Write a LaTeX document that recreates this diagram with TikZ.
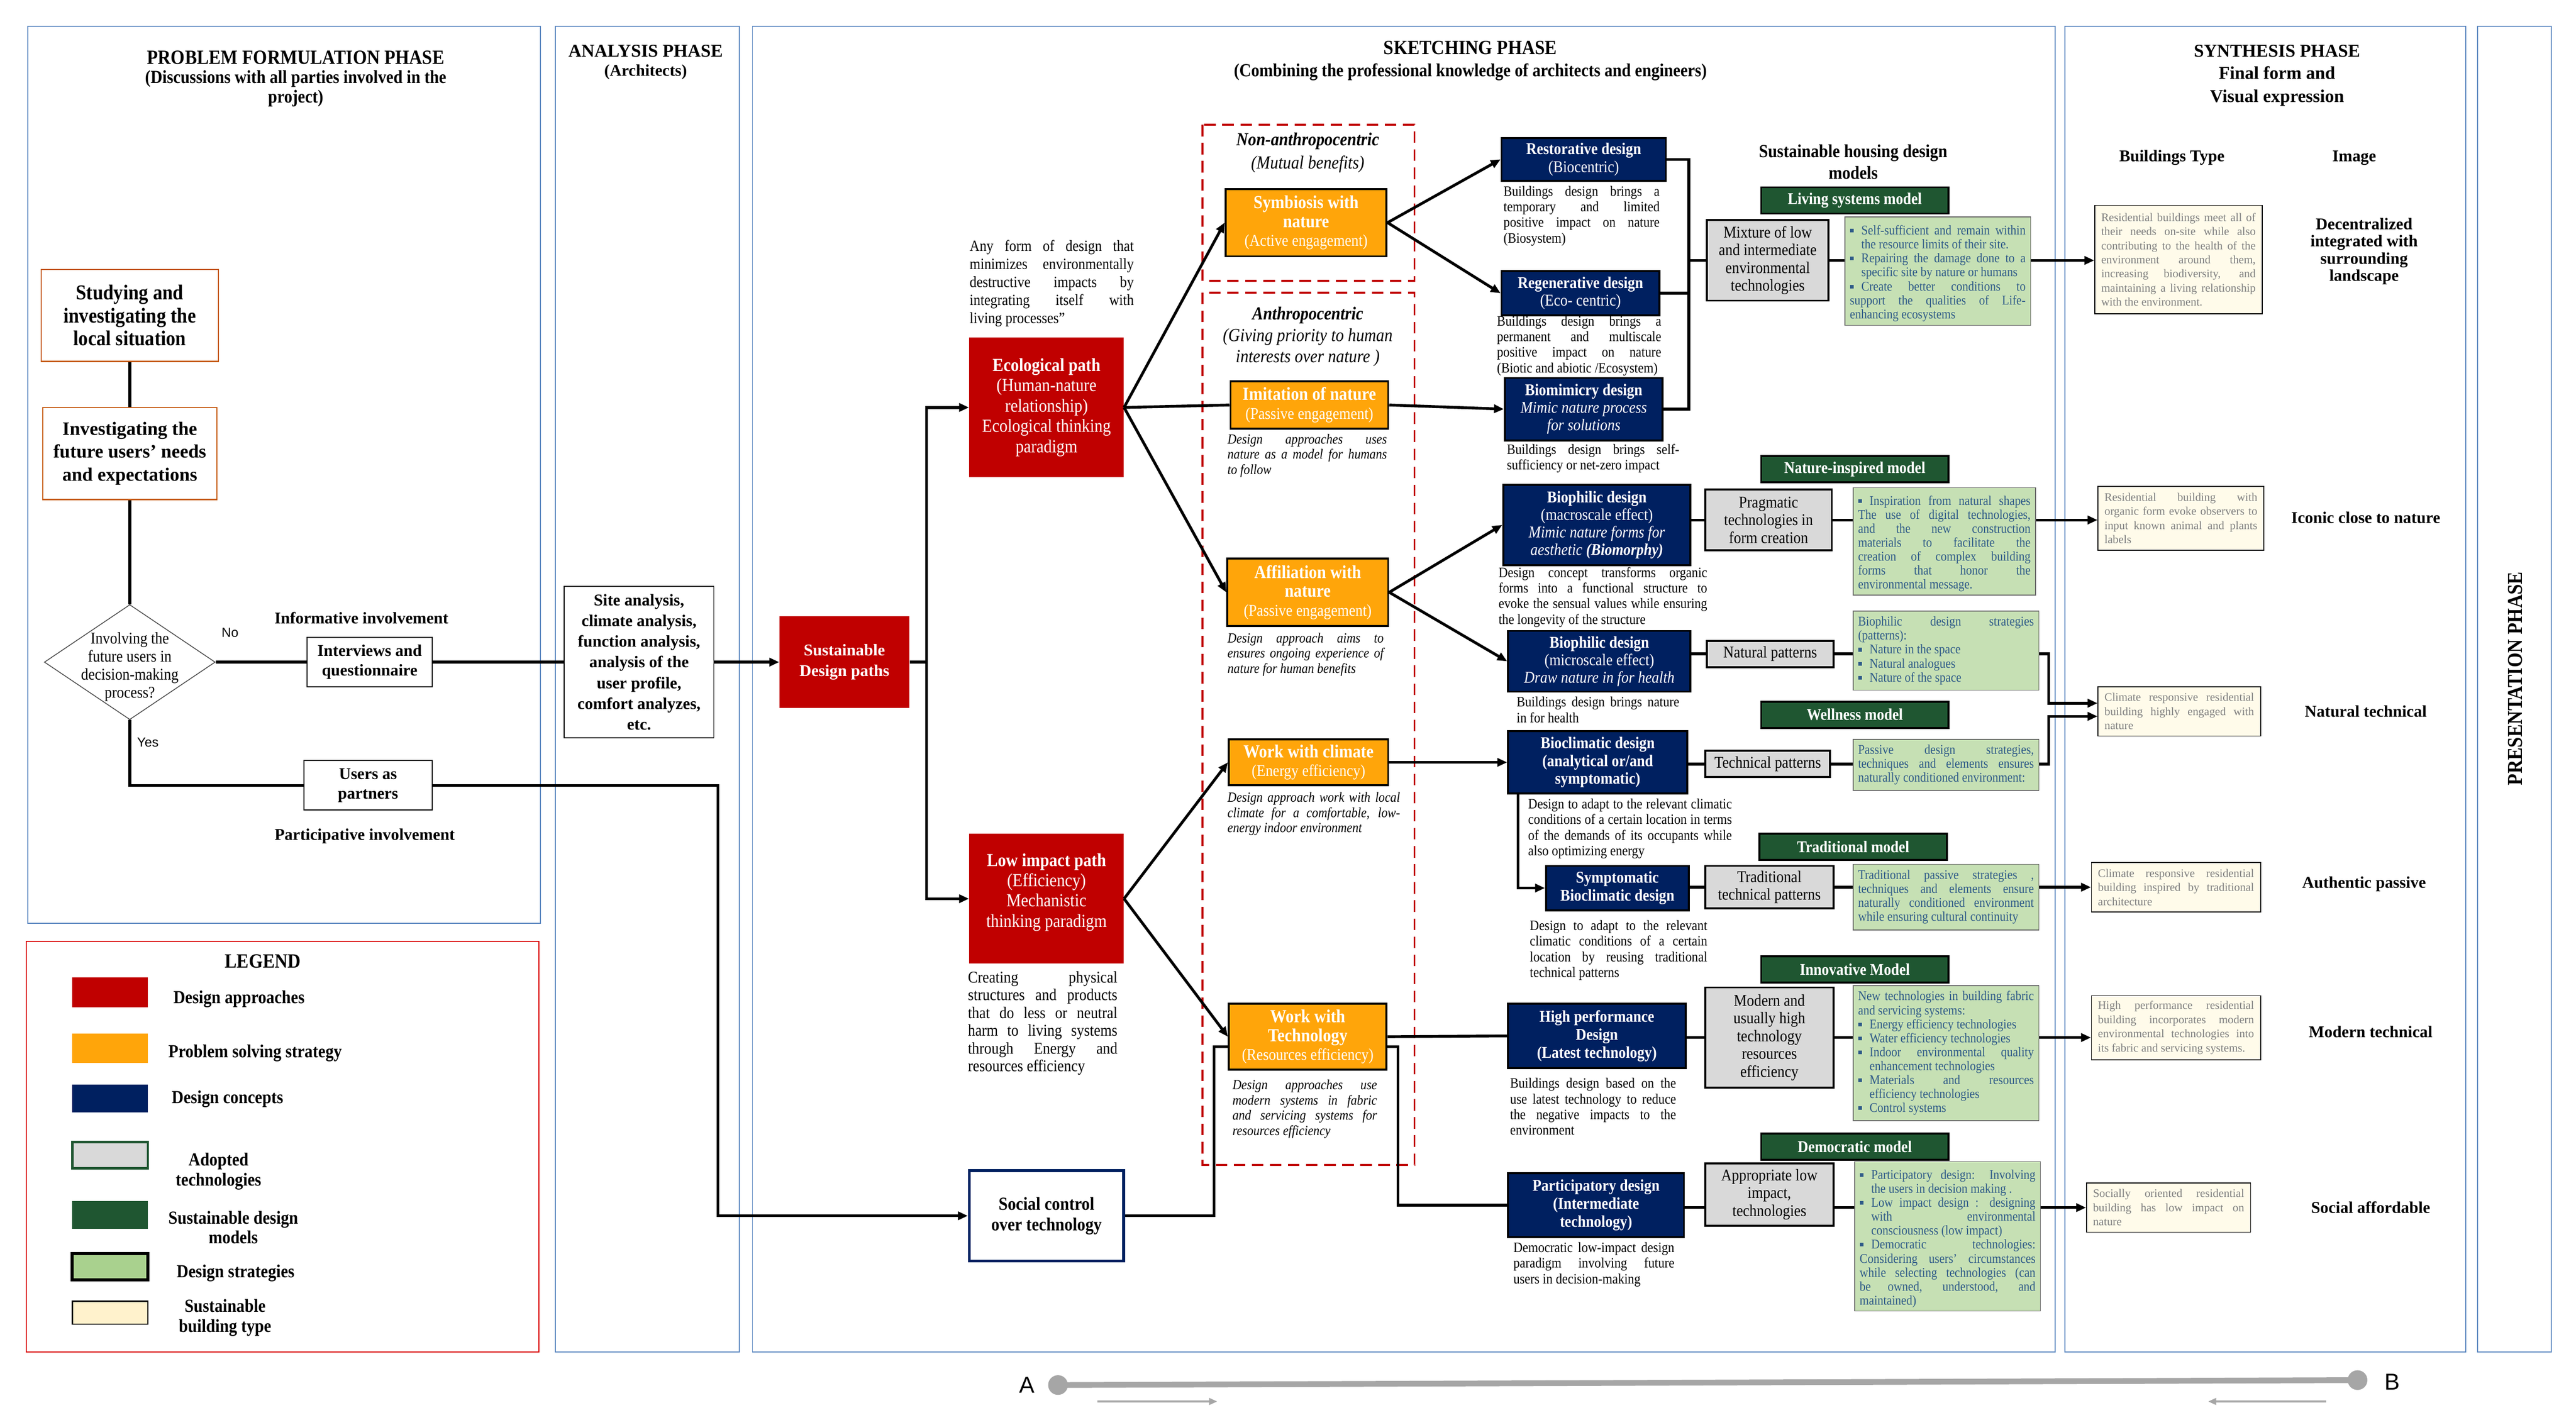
\documentclass[tikz,border=0pt]{standalone}
\usepackage{fontspec}
\setmainfont{Liberation Serif}[FakeStretch=0.89]
\newfontfamily\widef{Liberation Serif}
\newfontfamily\sansf{Liberation Sans}
\usetikzlibrary{shapes.geometric,arrows.meta,calc}
\newcommand{\fsz}[2]{\fontsize{#1}{#2}\selectfont}
\newcommand{\bul}{\leavevmode\hbox to 7pt{\raisebox{1.4pt}{\rule{2.2pt}{2.2pt}}\hss}}
\newcommand{\bitem}[1]{\par\noindent\hangindent=7pt\hangafter=1\bul #1}
\definecolor{dred}{HTML}{C00000}
\definecolor{orng}{HTML}{FFA50A}
\definecolor{navy}{HTML}{002060}
\definecolor{dgreen}{HTML}{1F5631}
\definecolor{lgreen}{HTML}{C6E0B4}
\definecolor{lgreenleg}{HTML}{A9D18E}
\definecolor{greyf}{HTML}{D9D9D9}
\definecolor{beige}{HTML}{FFF2CC}
\definecolor{beigebox}{HTML}{FFFBEA}
\definecolor{panelblue}{HTML}{5B87C0}
\definecolor{brownb}{HTML}{C55A11}
\definecolor{strtxt}{HTML}{2E5A88}
\definecolor{bttxt}{HTML}{7F7F7F}
\definecolor{bargrey}{HTML}{A6A6A6}
\tolerance=9999 \hyphenpenalty=10000 \hbadness=10000 \emergencystretch=3pt
\begin{document}
\begin{tikzpicture}[x=1pt,y=-1pt,
  panel/.style={draw=panelblue, line width=0.6pt},
  dashred/.style={draw=dred, line width=1.2pt, dash pattern=on 7pt off 4pt},
  conn/.style={line width=1.7pt},
  arr/.style={conn, -{Triangle[length=6pt,width=5pt]}},
  pbox/.style={draw=brownb, line width=0.7pt, fill=white, font=\bfseries\fsz{12.9}{14}, align=center},
  wbox/.style={draw=black, line width=0.6pt, fill=white, font=\widef\bfseries\fsz{10}{12}, align=center},
  redbox/.style={fill=dred, text=white, inner sep=2pt, align=center},
  orbox/.style={fill=orng, draw=black, line width=1.2pt, text=white, align=center, inner sep=1pt, font=\fsz{11.2}{11.5}},
  navybox/.style={fill=navy, draw=black, line width=1.2pt, text=white, align=center, inner sep=1pt, font=\fsz{10}{10.7}},
  greybox/.style={fill=greyf, draw=black, line width=1.2pt, align=center, inner sep=1pt, font=\fsz{10}{10.8}},
  ghead/.style={fill=dgreen, draw=black, line width=1.2pt, text=white, font=\bfseries\fsz{10}{10}, minimum width=114pt, minimum height=16pt, inner sep=0pt},
  strat/.style={fill=lgreen, draw=black!60, line width=0.5pt, text=strtxt, align=justify, font=\fsz{8.1}{8.5}, inner xsep=3pt, inner ysep=2pt},
  bt/.style={fill=beigebox, draw=black, line width=0.5pt, text=bttxt, align=justify, font=\widef\fsz{7}{8.6}, inner xsep=4pt, inner ysep=2pt},
  desc/.style={align=justify, font=\fsz{8.7}{9.5}, inner sep=0pt, anchor=north west},
  idesc/.style={desc, font=\itshape\fsz{8.5}{9.3}},
  imglabel/.style={font=\widef\bfseries\fsz{10}{10.4}, align=center},
  ttl/.style={font=\bfseries\fsz{12.3}{13}, align=center},
  ttlw/.style={font=\widef\bfseries\fsz{11}{13}, align=center},
  sttl/.style={font=\bfseries\fsz{11.2}{12}, align=center},
  sttlw/.style={font=\widef\bfseries\fsz{10}{12}, align=center},
  legl/.style={font=\bfseries\fsz{11.2}{12}, align=center},
  sw/.style={minimum width=46pt, inner sep=0pt}
]
\useasboundingbox (0,0) rectangle (1568,864);
\fill[white] (0,0) rectangle (1568,864);

% ---------- panels ----------
\draw[panel] (17,16) rectangle (329,562);
\draw[draw=red!85!black, line width=0.6pt] (16,573) rectangle (328,823);
\draw[panel] (338,16) rectangle (450,823);
\draw[panel] (458,16) rectangle (1251,823);
\draw[panel] (1257,16) rectangle (1501,823);
\draw[panel] (1508,16) rectangle (1553,823);
\draw[dashred] (732,76) rectangle (861,171);
\draw[dashred] (732,178) rectangle (861,709);

% ---------- titles ----------
\node[ttl] (tpf) at (180,35) {PROBLEM FORMULATION PHASE};
\node[sttl] (tpfs) at (180,54) {(Discussions with all parties involved in the\\project)};
\node[ttlw] (tan) at (393,31) {ANALYSIS PHASE};
\node[sttlw] (tans) at (393,44) {(Architects)};
\node[ttl] (tsk) at (895,29) {SKETCHING PHASE};
\node[sttl] (tsks) at (895,44) {(Combining the professional knowledge of architects and engineers)};
\node[ttlw] (tsy) at (1386,31) {SYNTHESIS PHASE};
\node[font=\widef\bfseries\fsz{11}{14}, align=center] (tsys) at (1386,52.5) {Final form and\\Visual expression};
\node[font=\bfseries\fsz{12.9}{13}, rotate=90] (tpr) at (1531,413) {PRESENTATION PHASE};

% ---------- problem formulation ----------
\node[pbox, minimum width=108pt, minimum height=56pt] (stud) at (79,192) {Studying and\\investigating the\\local situation};
\node[pbox, minimum width=106pt, minimum height=56pt, font=\widef\bfseries\fsz{11.5}{14}] (inv) at (79,276) {Investigating the\\future users’ needs\\and expectations};
\node[draw=black!70, line width=0.5pt, shape=diamond, minimum width=104pt, minimum height=70pt, inner sep=0pt] (dia) at (79,403) {};
\node[font=\fsz{10}{11}, align=center] (diat) at (79,406) {Involving the\\future users in\\decision-making\\process?};
\node[font=\sansf\fsz{8}{9}] (no) at (140,385) {No};
\node[font=\sansf\fsz{8}{9}] (yes) at (90,452) {Yes};
\node[wbox, minimum width=76pt, minimum height=30pt] (intv) at (225,403) {Interviews and\\questionnaire};
\node[wbox, minimum width=78pt, minimum height=30pt] (users) at (224,478) {Users as\\partners};
\node[sttlw] (infl) at (220,376) {Informative involvement};
\node[sttlw] (partl) at (222,509) {Participative involvement};

% ---------- analysis ----------
\node[wbox, minimum width=91pt, minimum height=92pt, font=\widef\bfseries\fsz{10}{12.6}] (site) at (389,403) {Site analysis,\\climate analysis,\\function analysis,\\analysis of the\\user profile,\\comfort analyzes,\\etc.};

% ---------- sketching: paths ----------
\node[redbox, minimum width=79pt, minimum height=56pt, font=\widef\bfseries\fsz{10}{12.5}] (sdp) at (514,403) {Sustainable\\Design paths};
\node[redbox, minimum width=94pt, minimum height=85pt, font=\fsz{11.2}{12.4}] (eco) at (637,248) {\textbf{Ecological path}\\(Human-nature\\relationship)\\Ecological thinking\\paradigm};
\node[redbox, minimum width=94pt, minimum height=79pt, font=\fsz{11.2}{12.3}] (low) at (637,547) {\textbf{Low impact path}\\(Efficiency)\\Mechanistic\\thinking paradigm\\[-2pt]\mbox{}};
\node[desc, text width=100pt, font=\fsz{9.5}{11}] (ecod) at (590,146) {Any form of design that\linebreak minimizes environmentally\linebreak destructive impacts by\linebreak integrating itself with\linebreak living processes”};
\node[desc, text width=91pt, font=\fsz{10}{10.8}] (lowd) at (589,591) {Creating physical\linebreak structures and products\linebreak that do less or neutral\linebreak harm to living systems\linebreak through Energy and\linebreak resources efficiency};
\node[draw=navy, line width=1.8pt, fill=white, minimum width=94pt, minimum height=55pt, font=\bfseries\fsz{11.2}{12.5}, align=center] (social) at (637,740) {Social control\\over technology};

% ---------- strategies (orange) ----------
\node[font=\bfseries\itshape\fsz{11.2}{12}] (nant) at (796,86) {Non-anthropocentric};
\node[font=\itshape\fsz{11.2}{12}] (nants) at (796,100) {(Mutual benefits)};
\node[font=\bfseries\itshape\fsz{11.2}{12}] (ant) at (796,192) {Anthropocentric};
\node[font=\itshape\fsz{11.2}{13}, align=center] (ants) at (796,211.5) {(Giving priority to human\\interests over nature )};
\node[orbox, minimum width=98pt, minimum height=41pt] (symb) at (795,135.5) {\textbf{Symbiosis with}\\\textbf{nature}\\{\fsz{10}{11.5}(Active engagement)}};
\node[orbox, minimum width=96pt, minimum height=29pt] (imit) at (797,246.5) {\textbf{Imitation of nature}\\{\fsz{10}{11}(Passive engagement)}};
\node[orbox, minimum width=98pt, minimum height=41pt] (affil) at (796,360.5) {\textbf{Affiliation with}\\\textbf{nature}\\{\fsz{10}{11.5}(Passive engagement)}};
\node[orbox, minimum width=97pt, minimum height=28pt] (wwc) at (796.5,464) {\textbf{Work with climate}\\{\fsz{10}{11}(Energy efficiency)}};
\node[orbox, minimum width=96pt, minimum height=40pt] (wwt) at (796,631) {\textbf{Work with}\\\textbf{Technology}\\{\fsz{10}{11.5}(Resources efficiency)}};
\node[idesc, text width=97pt] (imitd) at (747,264) {Design approaches uses\linebreak nature as a model for humans\linebreak to follow};
\node[idesc, text width=95pt] (affild) at (747,385) {Design approach aims to\linebreak ensures ongoing experience of\linebreak nature for human benefits};
\node[idesc, text width=105pt] (wwcd) at (747,482) {Design approach work with local\linebreak climate for a comfortable, low-\linebreak energy indoor environment};
\node[idesc, text width=88pt] (wwtd) at (750,657) {Design approaches use\linebreak modern systems in fabric\linebreak and servicing systems for\linebreak resources efficiency};

% ---------- design concepts (navy) ----------
\node[navybox, minimum width=100pt, minimum height=26pt] (rest) at (964,97) {\textbf{Restorative design}\\(Biocentric)};
\node[navybox, minimum width=96pt, minimum height=27pt] (regen) at (962,178.5) {\textbf{Regenerative design}\\(Eco- centric)};
\node[navybox, minimum width=96pt, minimum height=38pt] (biom) at (964,249) {\textbf{Biomimicry design}\\\textit{Mimic nature process}\\\textit{for solutions}};
\node[navybox, minimum width=114pt, minimum height=49pt] (macro) at (972,319.5) {\textbf{Biophilic design}\\(macroscale effect)\\\textit{Mimic nature forms for}\\\textit{aesthetic \textbf{(Biomorphy)}}};
\node[navybox, minimum width=111pt, minimum height=37pt] (micro) at (973.5,402.5) {\textbf{Biophilic design}\\(microscale effect)\\\textit{Draw nature in for health}};
\node[navybox, minimum width=109pt, minimum height=38pt, font=\bfseries\fsz{10}{10.8}] (biocl) at (972.5,464) {Bioclimatic design\\(analytical or/and\\symptomatic)};
\node[navybox, minimum width=87pt, minimum height=27pt, font=\bfseries\fsz{10}{10.8}] (sympt) at (984.5,540.5) {Symptomatic\\Bioclimatic design};
\node[navybox, minimum width=108pt, minimum height=39pt, font=\bfseries\fsz{10}{11}] (hiperf) at (972,630.5) {High performance\\Design\\(Latest technology)};
\node[navybox, minimum width=107pt, minimum height=39pt, font=\bfseries\fsz{10}{11}] (partic) at (971.5,733.5) {Participatory design\\(Intermediate\\technology)};
\node[desc, text width=95pt] (restd) at (915,113) {Buildings design brings a\linebreak temporary and limited\linebreak positive impact on nature\linebreak (Biosystem)};
\node[desc, text width=100pt] (regend) at (911,192) {Buildings design brings a\linebreak permanent and multiscale\linebreak positive impact on nature\linebreak (Biotic and abiotic /Ecosystem)};
\node[desc, text width=105pt] (biomd) at (917,270) {Buildings design brings self-\linebreak sufficiency or net-zero impact};
\node[desc, text width=127pt] (macrod) at (912,345) {Design concept transforms organic\linebreak forms into a functional structure to\linebreak evoke the sensual values while ensuring\linebreak the longevity of the structure};
\node[desc, text width=99pt] (microd) at (923,424) {Buildings design brings nature\linebreak in for health};
\node[desc, text width=124pt] (bioclid) at (930,486) {Design to adapt to the relevant climatic\linebreak conditions of a certain location in terms\linebreak of the demands of its occupants while\linebreak also optimizing energy};
\node[desc, text width=108pt] (symptd) at (931,560) {Design to adapt to the relevant\linebreak climatic conditions of a certain\linebreak location by reusing traditional\linebreak technical patterns};
\node[desc, text width=101pt] (hiperfd) at (919,656) {Buildings design based on the\linebreak use latest technology to reduce\linebreak the negative impacts to the\linebreak environment};
\node[desc, text width=98pt] (particd) at (921,756) {Democratic low-impact design\linebreak paradigm involving future\linebreak users in decision-making};

% ---------- models ----------
\node[font=\bfseries\fsz{11.2}{13}, align=center] (shdm) at (1128,98.5) {Sustainable housing design\\models};
\node[ghead] (hliv) at (1129,122) {Living systems model};
\node[ghead] (hnat) at (1129,285.5) {Nature-inspired model};
\node[ghead] (hwel) at (1129,435) {Wellness model};
\node[ghead] (htra) at (1128,515.5) {Traditional model};
\node[ghead] (hinn) at (1129,590) {Innovative Model};
\node[ghead] (hdem) at (1129,698) {Democratic model};

\node[greybox, minimum width=74pt, minimum height=49pt] (mix) at (1076,158.5) {Mixture of low\\and intermediate\\environmental\\technologies};
\node[greybox, minimum width=77pt, minimum height=37pt] (prag) at (1076.5,316.5) {Pragmatic\\technologies in\\form creation};
\node[greybox, minimum width=77pt, minimum height=16pt] (natp) at (1077.5,398) {Natural patterns};
\node[greybox, minimum width=76pt, minimum height=16pt] (tecp) at (1076,465) {Technical patterns};
\node[greybox, minimum width=78pt, minimum height=26pt] (trap) at (1077,540) {Traditional\\technical patterns};
\node[greybox, minimum width=78pt, minimum height=61pt] (modp) at (1077,631.5) {Modern and\\usually high\\technology\\resources\\efficiency};
\node[greybox, minimum width=78pt, minimum height=38pt] (appp) at (1077,727) {Appropriate low\\impact,\\technologies};

\node[strat, text width=107pt, minimum height=66pt] (sliv) at (1179.5,165) {\bitem{Self-sufficient and remain within\linebreak the resource limits of their site.}\bitem{Repairing the damage done to a\linebreak specific site by nature or humans}\bitem{Create better conditions to\linebreak support the qualities of Life-\linebreak enhancing ecosystems}};
\node[strat, text width=105pt, minimum height=65pt] (snat) at (1183.5,329.5) {\bitem{Inspiration from natural shapes\linebreak The use of digital technologies,\linebreak and the new construction\linebreak materials to facilitate the\linebreak creation of complex building\linebreak forms that honor the\linebreak environmental message.}};
\node[strat, text width=107pt, minimum height=48pt] (sbio) at (1184.5,396) {Biophilic design strategies\linebreak (patterns):\bitem{Nature in the space}\bitem{Natural analogues}\bitem{Nature of the space}};
\node[strat, text width=107pt, minimum height=31pt] (swel) at (1184.5,465.5) {Passive design strategies,\linebreak techniques and elements ensures\linebreak naturally conditioned environment:};
\node[strat, text width=107pt, minimum height=40pt] (stra) at (1184.5,546) {Traditional passive strategies ,\linebreak techniques and elements ensure\linebreak naturally conditioned environment\linebreak while ensuring cultural continuity};
\node[strat, text width=107pt, minimum height=82pt] (sinn) at (1184.5,641) {New technologies in building fabric\linebreak and servicing systems:\bitem{Energy efficiency technologies}\bitem{Water efficiency technologies}\bitem{Indoor environmental quality\linebreak enhancement technologies}\bitem{Materials and resources\linebreak efficiency technologies}\bitem{Control systems}};
\node[strat, text width=107pt, minimum height=91pt] (sdem) at (1185.5,752.5) {\bitem{Participatory design: Involving\linebreak the users in decision making .}\bitem{Low impact design : designing\linebreak with environmental\linebreak consciousness (low impact)}\bitem{Democratic technologies:\linebreak Considering users' circumstances\linebreak while selecting technologies (can\linebreak be owned, understood, and\linebreak maintained)}};

% ---------- synthesis ----------
\node[sttlw] (hbt) at (1322,96) {Buildings Type};
\node[sttlw] (him) at (1433,96) {Image};
\node[bt, text width=94pt, minimum height=66pt] (bt1) at (1326,158) {Residential buildings meet all of\linebreak their needs on-site while also\linebreak contributing to the health of the\linebreak environment around them,\linebreak increasing biodiversity, and\linebreak maintaining a living relationship\linebreak with the environment.};
\node[bt, text width=93pt, minimum height=39pt] (bt2) at (1327.5,315.5) {Residential building with\linebreak organic form evoke observers to\linebreak input known animal and plants\linebreak labels};
\node[bt, text width=91pt, minimum height=30pt] (bt3) at (1326.5,433) {Climate responsive residential\linebreak building highly engaged with\linebreak nature};
\node[bt, text width=95pt, minimum height=30pt] (bt4) at (1324.5,540) {Climate responsive residential\linebreak building inspired by traditional\linebreak architecture};
\node[bt, text width=95pt, minimum height=39pt] (bt5) at (1324.5,625.5) {High performance residential\linebreak building incorporates modern\linebreak environmental technologies into\linebreak its fabric and servicing systems.};
\node[bt, text width=92pt, minimum height=30pt] (bt6) at (1320,735) {Socially oriented residential\linebreak building has low impact on\linebreak nature};
\node[imglabel] (im1) at (1439,153) {Decentralized\\integrated with\\surrounding\\landscape};
\node[imglabel] (im2) at (1440,315) {Iconic close to nature};
\node[imglabel] (im3) at (1440,433) {Natural technical};
\node[imglabel] (im4) at (1439,538) {Authentic passive};
\node[imglabel] (im5) at (1443,628) {Modern technical};
\node[imglabel] (im6) at (1443,735) {Social affordable};

% ---------- legend ----------
\node[ttl] (tleg) at (160,585) {LEGEND};
\node[sw, fill=dred, minimum height=18pt] (lg1) at (67,604) {};
\node[sw, fill=orng, minimum height=18pt] (lg2) at (67,638) {};
\node[sw, fill=navy, minimum height=17pt] (lg3) at (67,668.5) {};
\node[sw, fill=greyf, draw=dgreen, line width=1.5pt, minimum height=16pt] (lg4) at (67,703) {};
\node[sw, fill=dgreen, minimum height=17pt] (lg5) at (67,739.5) {};
\node[sw, fill=lgreenleg, draw=black, line width=1.8pt, minimum height=16pt] (lg6) at (67,771) {};
\node[sw, fill=beige, draw=black, line width=0.8pt, minimum height=14pt] (lg7) at (67,799) {};
\node[legl, anchor=west] (lg1t) at (102,608) {Design approaches};
\node[legl, anchor=west] (lg2t) at (99,641) {Problem solving strategy};
\node[legl, anchor=west] (lg3t) at (101,669) {Design concepts};
\node[legl] (lg4t) at (133,713) {Adopted\\technologies};
\node[legl] (lg5t) at (142,747) {Sustainable design\\models};
\node[legl, anchor=west] (lg6t) at (104,775) {Design strategies};
\node[legl] (lg7t) at (137,802) {Sustainable\\building type};

% ---------- A-B bar ----------
\coordinate (pa) at (644,843);
\coordinate (pb) at (1435,840);
\draw[bargrey, line width=3.5pt] (pa) -- (pb);
\node[circle, fill=bargrey, minimum size=12pt, inner sep=0pt] (ca) at (pa) {};
\node[circle, fill=bargrey, minimum size=12pt, inner sep=0pt] (cb) at (pb) {};
\node[font=\sansf\fsz{14}{16}] (la) at (625,843) {A};
\node[font=\sansf\fsz{14}{16}] (lb) at (1456,841) {B};
\coordinate (r1s) at (668,853); \coordinate (r1e) at (741,853);
\coordinate (r2s) at (1416,853); \coordinate (r2e) at (1344,853);
\draw[bargrey, line width=1.3pt, -{Triangle[length=5pt,width=4pt]}] (r1s) -- (r1e);
\draw[bargrey, line width=1.3pt, -{Triangle[length=5pt,width=4pt]}] (r2s) -- (r2e);

% ---------- connectors ----------
\draw[conn] (stud) -- (inv);
\draw[conn] (inv) -- (dia.north);
\draw[conn] (dia.east) -- (intv.west);
\draw[conn] (intv.east) -- (site.west);
\draw[conn] (dia.south) |- (users.west);
\coordinate (ujog) at (437,478);
\draw[arr] (users.east) -- (ujog) |- (social.west);
\draw[arr] (site.east) -- (sdp.west);
\coordinate (spl) at (564,403);
\draw[conn] (sdp.east) -- (spl);
\draw[arr] (spl) |- (eco.west);
\draw[arr] (spl) |- (low.west);

\draw[arr] (eco.east) -- (symb.west);
\draw[conn] (eco.east) -- (imit.west);
\draw[arr] (eco.east) -- (affil.west);
\draw[arr] (low.east) -- (wwc.west);
\draw[arr] (low.east) -- (wwt.west);
\coordinate (sj) at (739,740);
\draw[conn] (social.east) -- (sj) |- ([yshift=-6pt]wwt.west);

\draw[arr] (symb.east) -- (rest.west);
\draw[arr] (symb.east) -- (regen.west);
\draw[arr] (imit.east) -- (biom.west);
\draw[arr] (affil.east) -- (macro.west);
\draw[arr] (affil.east) -- (micro.west);
\draw[arr] (wwc.east) -- (biocl.west);
\draw[conn] (wwt.east) -- (hiperf.west);
\coordinate (wj) at (851,637);
\draw[conn] ([yshift=-6pt]wwt.east) -- (wj) |- (partic.west);
\coordinate (bjx) at (924,500);
\draw[arr] (biocl.south -| bjx) |- (sympt.west);

\coordinate (vt) at (1028,97);
\coordinate (vb) at (1028,249);
\draw[conn] (rest.east) -- (vt) -- (vb) -- (biom.east);
\draw[conn] (regen.east) -- (regen.east -| vt);
\draw[conn] (mix.west -| vt) -- (mix.west);

\draw[conn] (mix.east) -- (mix.east -| sliv.west);
\draw[arr] (mix.east -| sliv.east) -- (mix.east -| bt1.west);
\draw[conn] (macro.east |- prag.west) -- (prag.west);
\draw[conn] (prag.east) -- (prag.east -| snat.west);
\draw[arr] (prag.east -| snat.east) -- (prag.east -| bt2.west);
\draw[conn] (micro.east |- natp.west) -- (natp.west);
\draw[conn] (natp.east) -- (natp.east -| sbio.west);
\coordinate (nj1) at (1247,428);
\draw[arr] (natp.east -| sbio.east) -| (nj1) -- (nj1 -| bt3.west);
\draw[conn] (biocl.east |- tecp.west) -- (tecp.west);
\draw[conn] (tecp.east) -- (tecp.east -| swel.west);
\coordinate (nj2) at (1247,436);
\draw[arr] (tecp.east -| swel.east) -| (nj2) -- (nj2 -| bt3.west);
\draw[conn] (sympt.east |- trap.west) -- (trap.west);
\draw[conn] (trap.east) -- (trap.east -| stra.west);
\draw[arr] (trap.east -| stra.east) -- (trap.east -| bt4.west);
\draw[conn] (hiperf.east |- modp.west) -- (modp.west);
\draw[conn] (modp.east) -- (modp.east -| sinn.west);
\draw[arr] (modp.east -| sinn.east) -- (modp.east -| bt5.west);
\coordinate (drow) at (1100,735);
\draw[conn] (partic.east |- drow) -- (appp.west |- drow);
\draw[conn] (appp.east |- drow) -- (sdem.west |- drow);
\draw[arr] (sdem.east |- drow) -- (bt6.west |- drow);
\end{tikzpicture}
\end{document}
